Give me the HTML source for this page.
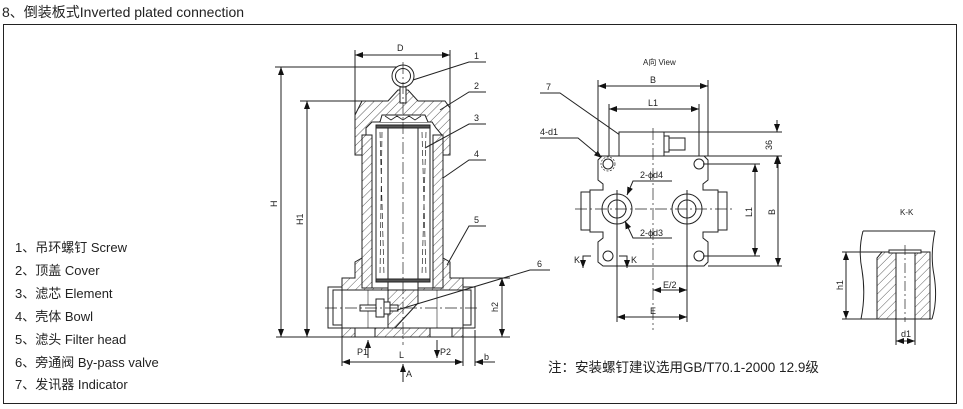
<!DOCTYPE html>
<html><head><meta charset="utf-8"><style>
html,body{margin:0;padding:0;background:#fff;}
svg{display:block;}
text{font-family:"Liberation Sans","Noto Sans CJK SC",sans-serif;fill:#222;}
</style></head><body>
<svg width="963" height="409" viewBox="0 0 963 409" xmlns="http://www.w3.org/2000/svg">
<defs>
<pattern id="h" width="6" height="6" patternUnits="userSpaceOnUse" patternTransform="rotate(45)">
<rect width="6" height="6" fill="#fff"/><line x1="0" y1="0" x2="0" y2="6" stroke="#333" stroke-width="0.8"/>
</pattern>
<marker id="a" markerWidth="8" markerHeight="6" refX="8" refY="3" orient="auto-start-reverse" markerUnits="userSpaceOnUse"><path d="M0,0 L8,3 L0,6z" fill="#111"/></marker>
</defs>
<text x="2" y="17" font-size="14" fill="#333">8、倒装板式Inverted plated connection</text>
<rect x="3.5" y="24.5" width="953" height="379" fill="none" stroke="#222" stroke-width="1"/>

<g font-size="13">
<text x="15" y="252">1、吊环螺钉 Screw</text>
<text x="15" y="275">2、顶盖 Cover</text>
<text x="15" y="298">3、滤芯 Element</text>
<text x="15" y="321">4、壳体 Bowl</text>
<text x="15" y="344">5、滤头 Filter head</text>
<text x="15" y="367">6、旁通阀 By-pass valve</text>
<text x="15" y="389">7、发讯器 Indicator</text>
</g>
<text x="548" y="372" font-size="13.5" fill="#444">注：安装螺钉建议选用GB/T70.1-2000  12.9级</text>

<g stroke="#222" stroke-width="1" fill="none">
<!-- dims -->
<line x1="355" y1="55" x2="450" y2="55" marker-start="url(#a)" marker-end="url(#a)"/>
<line x1="355" y1="50" x2="355" y2="115"/><line x1="450" y1="50" x2="450" y2="115"/>
<line x1="281" y1="67" x2="281" y2="337" marker-start="url(#a)" marker-end="url(#a)"/>
<line x1="275" y1="67" x2="405" y2="67"/>
<line x1="307" y1="101" x2="307" y2="337" marker-start="url(#a)" marker-end="url(#a)"/>
<line x1="300" y1="101" x2="362" y2="101"/>
<line x1="276" y1="337" x2="510" y2="337"/>
<line x1="502" y1="278" x2="502" y2="337" marker-start="url(#a)" marker-end="url(#a)"/>
<line x1="463" y1="278" x2="510" y2="278"/>
<line x1="342" y1="362" x2="463" y2="362" marker-start="url(#a)" marker-end="url(#a)"/>
<line x1="342" y1="337" x2="342" y2="366"/><line x1="463" y1="337" x2="463" y2="366"/>
<line x1="475" y1="330" x2="475" y2="366"/>
<line x1="487" y1="362" x2="475" y2="362" marker-end="url(#a)"/><line x1="487" y1="362" x2="495" y2="362"/>
<!-- cover -->
<path d="M355,115 L362,101 L388,101 L398,90 L408,90 L418,101 L445,101 L450,108 L450,155 L442,155 L442,135 L436,128 L432,122 L372,122 L366,128 L366,135 L362,135 L362,155 L355,155 Z" fill="url(#h)"/>
<path d="M380,122 L382,115 L425,115 L428,122" fill="#fff"/>
<path d="M385,116 l6,4 l6,-4 l6,4 l6,-4 l6,4 l6,-4" stroke-width="0.8"/>
<!-- ring -->
<circle cx="403" cy="76" r="11" fill="#fff"/><circle cx="403" cy="76" r="7.5"/>
<rect x="400" y="87" width="6" height="16" fill="#fff"/>
<!-- bowl -->
<rect x="362" y="135" width="10" height="153" fill="url(#h)"/>
<rect x="433" y="135" width="10" height="153" fill="url(#h)"/>
<!-- head -->
<path d="M342,278 L355,278 L355,262 L362,258 L362,288 L443,288 L443,258 L450,262 L450,278 L463,278 L463,337 L342,337 Z" fill="url(#h)"/>
<rect x="342" y="290" width="121" height="38" fill="#fff"/>
<line x1="342" y1="290" x2="463" y2="290"/><line x1="342" y1="328" x2="463" y2="328"/>
<path d="M388,290 L418,290 L418,303 L395,328 L388,328 Z" fill="url(#h)"/>
<rect x="388" y="275" width="30" height="15" fill="#fff"/>
<rect x="328" y="287" width="14" height="41" fill="#fff"/><rect x="333" y="290" width="9" height="35"/>
<rect x="463" y="287" width="12" height="41" fill="#fff"/><rect x="463" y="290" width="8" height="35"/>
<rect x="355" y="328" width="20" height="9" fill="#fff"/><rect x="430" y="328" width="22" height="9" fill="#fff"/>
<line x1="368" y1="290" x2="368" y2="328" stroke-width="0.6"/><line x1="437" y1="290" x2="437" y2="328" stroke-width="0.6"/>
<!-- bypass valve -->
<rect x="360" y="305" width="38" height="6" fill="#fff"/><rect x="376" y="299" width="8" height="18" fill="#fff"/>
<rect x="384" y="302" width="6" height="12" fill="#fff"/>
<!-- element -->
<rect x="376" y="125" width="54" height="157" fill="#fff"/>
<rect x="388" y="125" width="30" height="157"/>
<rect x="376" y="125" width="54" height="3" fill="#555"/>
<rect x="376" y="279" width="54" height="3" fill="#555"/>
<path d="M380,132 L384,275 M382,132 L380,275 M422,132 L426,275 M426,132 L422,275" stroke-dasharray="6,3" stroke-width="0.7"/>
<!-- centre lines -->
<line x1="403" y1="62" x2="403" y2="345" stroke-dasharray="12,3,2,3" stroke-width="0.7"/>
<line x1="325" y1="308" x2="480" y2="308" stroke-dasharray="12,3,2,3" stroke-width="0.7"/>
<!-- P arrows -->
<line x1="368" y1="358" x2="368" y2="340" marker-end="url(#a)"/>
<line x1="437" y1="340" x2="437" y2="358" marker-end="url(#a)"/>
<line x1="403" y1="382" x2="403" y2="364" marker-end="url(#a)"/>
<!-- leaders -->
<path d="M413,80 L469,62 L486,62"/><path d="M440,110 L469,92 L486,92"/>
<path d="M425,148 L469,124 L486,124"/><path d="M443,178 L469,160 L486,160"/>
<path d="M447,265 L469,226 L486,226"/><path d="M397,310 L530,270 L550,270"/>
<path d="M540,93 L560,93 L627,140"/><path d="M540,138 L578,138 L602,158" marker-end="url(#a)"/>

<!-- right view -->
<line x1="598" y1="86" x2="708" y2="86" marker-start="url(#a)" marker-end="url(#a)"/>
<line x1="598" y1="80" x2="598" y2="156"/><line x1="708" y1="80" x2="708" y2="156"/>
<line x1="609" y1="109" x2="699" y2="109" marker-start="url(#a)" marker-end="url(#a)"/>
<line x1="609" y1="104" x2="609" y2="160"/><line x1="699" y1="104" x2="699" y2="160"/>
<rect x="619" y="132" width="45" height="24" fill="#fff"/>
<rect x="664" y="136" width="5" height="16"/><rect x="669" y="138" width="16" height="12"/>
<line x1="664" y1="132" x2="782" y2="132"/><line x1="600" y1="156" x2="782" y2="156"/>
<line x1="777" y1="120" x2="777" y2="132" marker-end="url(#a)"/><line x1="777" y1="168" x2="777" y2="156" marker-end="url(#a)"/>
<path d="M598,160 L598,180 L603,184 L603,190 L590,190 L590,232 L603,232 L603,238 L598,242 L598,262 L603,266 L704,266 L708,262 L708,242 L703,238 L703,232 L718,232 L718,190 L703,190 L703,184 L708,180 L708,160 L704,156 L602,156 Z" fill="#fff"/>
<rect x="581" y="192" width="9" height="38"/><rect x="718" y="192" width="9" height="38"/>
<circle cx="608" cy="164" r="5"/><circle cx="699" cy="164" r="5"/><circle cx="608" cy="256" r="5"/><circle cx="699" cy="256" r="5"/>
<circle cx="608" cy="164" r="7" stroke-dasharray="2,1.5" stroke-width="0.7"/>
<circle cx="617" cy="209" r="15"/><circle cx="617" cy="209" r="9"/>
<circle cx="687" cy="209" r="15"/><circle cx="687" cy="209" r="9"/>
<line x1="653" y1="128" x2="653" y2="330" stroke-dasharray="12,3,2,3" stroke-width="0.7"/>
<line x1="575" y1="209" x2="735" y2="209" stroke-dasharray="12,3,2,3" stroke-width="0.7"/>
<line x1="617" y1="190" x2="617" y2="322"/><line x1="687" y1="190" x2="687" y2="322"/>
<line x1="703" y1="164" x2="760" y2="164"/><line x1="703" y1="256" x2="760" y2="256"/>
<line x1="755" y1="164" x2="755" y2="256" marker-start="url(#a)" marker-end="url(#a)"/>
<line x1="708" y1="266" x2="782" y2="266"/>
<line x1="778" y1="156" x2="778" y2="266" marker-start="url(#a)" marker-end="url(#a)"/>
<line x1="653" y1="290" x2="687" y2="290" marker-start="url(#a)" marker-end="url(#a)"/>
<line x1="617" y1="317" x2="687" y2="317" marker-start="url(#a)" marker-end="url(#a)"/>
<path d="M672,181 L633,181 L627,195" marker-end="url(#a)"/>
<path d="M672,238 L633,238 L625,221" marker-end="url(#a)"/>
<path d="M591,256 L583,256 L583,268" marker-end="url(#a)"/><path d="M619,256 L627,256 L627,268" marker-end="url(#a)"/>

<!-- K-K -->
<path d="M863,231 L935,231"/>
<path d="M863,231 Q858,250 862,270 Q866,295 861,319"/>
<path d="M935,231 Q930,255 934,275 Q938,300 932,319"/>
<line x1="842" y1="319" x2="932" y2="319"/>
<line x1="842" y1="252" x2="930" y2="252"/>
<path d="M882,252 L896,252 L896,319 L877,319 L877,258 Z" fill="url(#h)"/>
<rect x="915" y="252" width="15" height="67" fill="url(#h)"/>
<rect x="889" y="250" width="32" height="3" fill="#fff"/>
<line x1="905" y1="245" x2="905" y2="322" stroke-dasharray="10,3,2,3" stroke-width="0.7"/>
<line x1="846" y1="252" x2="846" y2="319" marker-start="url(#a)" marker-end="url(#a)"/>
<line x1="896" y1="319" x2="896" y2="345"/><line x1="915" y1="319" x2="915" y2="345"/>
<line x1="896" y1="341" x2="915" y2="341" marker-start="url(#a)" marker-end="url(#a)"/>
</g>

<g font-size="9" fill="#222">
<text x="397" y="51">D</text>
<text x="277" y="207" transform="rotate(-90 277 207)">H</text>
<text x="303" y="225" transform="rotate(-90 303 225)">H1</text>
<text x="498" y="312" transform="rotate(-90 498 312)">h2</text>
<text x="357" y="355">P1</text><text x="440" y="355">P2</text>
<text x="399" y="358">L</text><text x="484" y="360">b</text>
<text x="406" y="377">A</text>
<text x="474" y="59">1</text><text x="474" y="89">2</text><text x="474" y="121">3</text>
<text x="474" y="157">4</text><text x="474" y="223">5</text><text x="537" y="267">6</text><text x="546" y="90">7</text>
<text x="540" y="135">4-d1</text>
<text x="643" y="65" font-size="8">A向  View</text>
<text x="650" y="83">B</text><text x="648" y="106">L1</text>
<text x="772" y="150" transform="rotate(-90 772 150)">36</text>
<text x="752" y="217" transform="rotate(-90 752 217)">L1</text>
<text x="775" y="215" transform="rotate(-90 775 215)">B</text>
<text x="640" y="178">2-ϕd4</text><text x="640" y="236">2-ϕd3</text>
<text x="574" y="263">K</text><text x="631" y="263">K</text>
<text x="663" y="288">E/2</text><text x="650" y="314">E</text>
<text x="900" y="215" font-size="8">K-K</text>
<text x="843" y="290" transform="rotate(-90 843 290)">h1</text>
<text x="901" y="337">d1</text>
</g>
</svg>
</body></html>
